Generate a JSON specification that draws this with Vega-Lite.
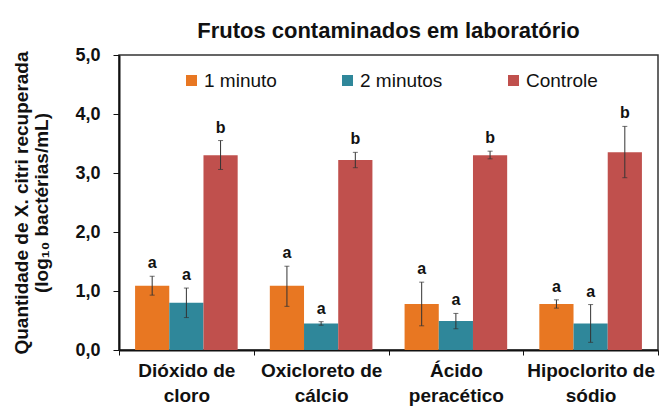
{
  "$schema": "https://vega.github.io/schema/vega-lite/v6.json",
  "width": 539,
  "height": 295,
  "autosize": "none",
  "padding": {"left": 119, "top": 55, "right": 3, "bottom": 56},
  "title": {"text": "Frutos contaminados em laboratório", "font": "Liberation Sans", "fontSize": 22, "fontWeight": "bold", "anchor": "middle", "frame": "group", "baseline": "alphabetic", "offset": 18, "dy": 32, "color": "#111"},
  "config": {
    "view": {"stroke": "#333", "strokeWidth": 1.5},
    "font": "Liberation Sans",
    "axisY": {
      "titleFont": "Liberation Sans", "titleFontSize": 19, "titleFontWeight": "bold", "titleColor": "#111", "titlePadding": 23, "titleLineHeight": 20,
      "labelFont": "Liberation Sans", "labelFontSize": 18, "labelFontWeight": "bold", "labelColor": "#111", "labelPadding": 13,
      "grid": false, "tickSize": 6, "tickColor": "#111", "domainColor": "#111", "domainWidth": 2
    }
  },
  "data": {"values": [
    {"tratamento": "Dióxido de cloro", "tempo": "1 minuto", "media": 1.09, "lo": 0.93, "hi": 1.25, "letra": "a"},
    {"tratamento": "Dióxido de cloro", "tempo": "2 minutos", "media": 0.80, "lo": 0.55, "hi": 1.05, "letra": "a"},
    {"tratamento": "Dióxido de cloro", "tempo": "Controle", "media": 3.30, "lo": 3.06, "hi": 3.55, "letra": "b"},
    {"tratamento": "Oxicloreto de cálcio", "tempo": "1 minuto", "media": 1.09, "lo": 0.74, "hi": 1.42, "letra": "a"},
    {"tratamento": "Oxicloreto de cálcio", "tempo": "2 minutos", "media": 0.45, "lo": 0.42, "hi": 0.48, "letra": "a"},
    {"tratamento": "Oxicloreto de cálcio", "tempo": "Controle", "media": 3.22, "lo": 3.09, "hi": 3.35, "letra": "b"},
    {"tratamento": "Ácido peracético", "tempo": "1 minuto", "media": 0.78, "lo": 0.41, "hi": 1.15, "letra": "a"},
    {"tratamento": "Ácido peracético", "tempo": "2 minutos", "media": 0.49, "lo": 0.36, "hi": 0.62, "letra": "a"},
    {"tratamento": "Ácido peracético", "tempo": "Controle", "media": 3.30, "lo": 3.24, "hi": 3.37, "letra": "b"},
    {"tratamento": "Hipoclorito de sódio", "tempo": "1 minuto", "media": 0.78, "lo": 0.71, "hi": 0.85, "letra": "a"},
    {"tratamento": "Hipoclorito de sódio", "tempo": "2 minutos", "media": 0.45, "lo": 0.13, "hi": 0.77, "letra": "a"},
    {"tratamento": "Hipoclorito de sódio", "tempo": "Controle", "media": 3.35, "lo": 2.92, "hi": 3.79, "letra": "b"}
  ]},
  "encoding": {
    "x": {
      "field": "tratamento", "type": "nominal",
      "sort": ["Dióxido de cloro", "Oxicloreto de cálcio", "Ácido peracético", "Hipoclorito de sódio"],
      "scale": {"paddingInner": 0, "paddingOuter": 0},
      "axis": {
        "title": null, "labelAngle": 0, "tickBand": "extent", "tickSize": 5, "tickColor": "#111", "domainColor": "#111", "domainWidth": 2,
        "labelFont": "Liberation Sans", "labelFontSize": 19, "labelFontWeight": "bold", "labelColor": "#111", "labelPadding": 6, "labelLineHeight": 25,
        "labelExpr": "datum.label == 'Dióxido de cloro' ? ['Dióxido de', 'cloro'] : datum.label == 'Oxicloreto de cálcio' ? ['Oxicloreto de', 'cálcio'] : datum.label == 'Ácido peracético' ? ['Ácido', 'peracético'] : datum.label == 'Hipoclorito de sódio' ? ['Hipoclorito de', 'sódio'] : ''"
      }
    },
    "xOffset": {"field": "tempo", "type": "nominal", "sort": ["1 minuto", "2 minutos", "Controle"], "scale": {"paddingInner": 0, "paddingOuter": 0.47}}
  },
  "layer": [
    {
      "mark": {"type": "bar"},
      "encoding": {
        "y": {
          "field": "media", "type": "quantitative", "scale": {"domain": [0, 5]},
          "title": ["Quantidade de X. citri recuperada", "(log₁₀ bactérias/mL)"],
          "axis": {
            "values": [0, 0.5, 1, 1.5, 2, 2.5, 3, 3.5, 4, 4.5, 5],
            "labelExpr": "datum.value % 1 == 0 ? replace(format(datum.value, '.1f'), '.', ',') : ''"
          }
        },
        "color": {
          "field": "tempo", "type": "nominal",
          "scale": {"domain": ["1 minuto", "2 minutos", "Controle"], "range": ["#E87722", "#2F879A", "#C0504D"]},
          "legend": {
            "title": null, "orient": "none", "legendX": 63, "legendY": 16, "direction": "horizontal", "columns": 3, "gridAlign": "none",
            "symbolType": "square", "symbolSize": 121, "symbolStrokeWidth": 0, "columnPadding": 61,
            "labelFont": "Liberation Sans", "labelFontSize": 19, "labelColor": "#111", "labelOffset": 3
          }
        }
      }
    },
    {
      "mark": {"type": "errorbar", "color": "#333", "ticks": {"size": 5}},
      "encoding": {
        "y": {"field": "lo", "type": "quantitative", "title": ["Quantidade de X. citri recuperada", "(log₁₀ bactérias/mL)"]},
        "y2": {"field": "hi"}
      }
    },
    {
      "mark": {"type": "text", "dy": -8, "fontSize": 16, "fontWeight": "bold", "font": "Liberation Sans", "color": "#111", "baseline": "alphabetic"},
      "encoding": {
        "y": {"field": "hi", "type": "quantitative", "title": ["Quantidade de X. citri recuperada", "(log₁₀ bactérias/mL)"]},
        "text": {"field": "letra"}
      }
    }
  ]
}
